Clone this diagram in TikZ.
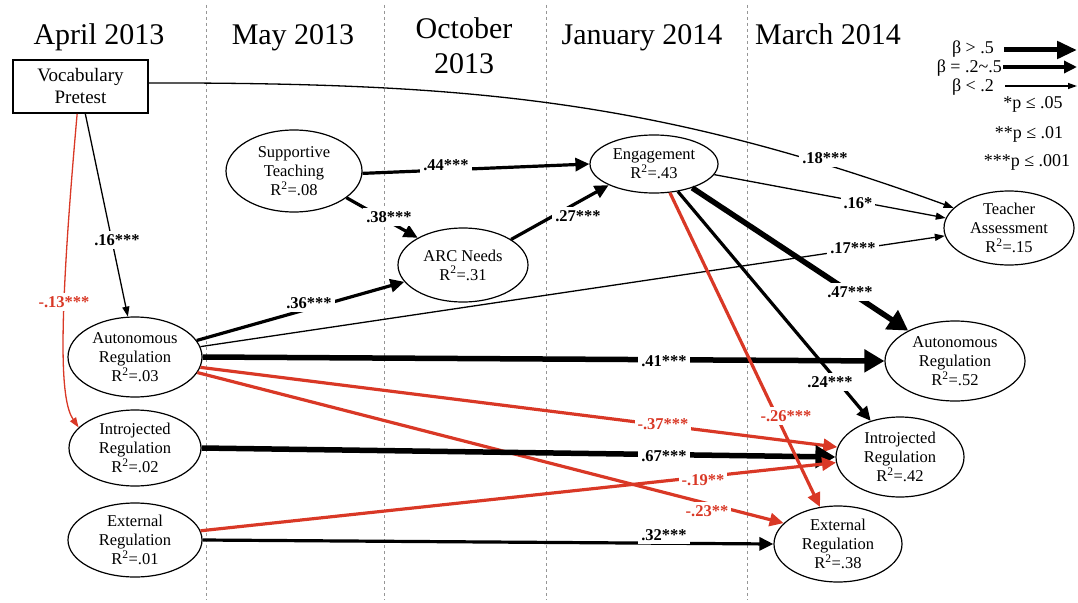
\documentclass[tikz,border=0pt]{standalone}
\usepackage{fontspec}
\setmainfont{Liberation Serif}
\usetikzlibrary{shapes.geometric,arrows.meta}
\definecolor{pathred}{RGB}{217,56,38}
\definecolor{dashgray}{RGB}{150,150,150}
\begin{document}
\begin{tikzpicture}[x=1pt,y=-1pt,
  every node/.style={font=\fontsize{16.5}{19}\selectfont},
  var/.style={ellipse,draw,line width=1.2pt,inner sep=0pt,align=center},
  hdr/.style={font=\fontsize{30}{35}\selectfont,align=center,inner sep=0pt},
  lab/.style={font=\bfseries\fontsize{16.5}{19}\selectfont,fill=white,inner sep=3pt},
  rlab/.style={lab,text=pathred},
  leg/.style={font=\fontsize{18}{20}\selectfont,inner sep=0pt},
  thinA/.style={line width=1.3pt,-{Triangle[length=10pt,width=7pt]}},
  medA/.style={line width=3.2pt,-{Triangle[length=14pt,width=13pt]}},
  thickA/.style={line width=5.5pt,-{Triangle[length=20pt,width=22pt]}},
  redA/.style={medA,draw=pathred},
  divider/.style={draw=dashgray,line width=1pt,dash pattern=on 3pt off 3pt}
]
\useasboundingbox (0,0) rectangle (1078,602);

% column dividers
\draw[divider] (206,5) -- (206,600);
\draw[divider] (384,5) -- (384,600);
\draw[divider] (546,5) -- (546,600);
\draw[divider] (747,5) -- (747,600);

% headers
\node[hdr,anchor=base] (h1) at (99,45) {April 2013};
\node[hdr,anchor=base] (h2) at (293,45) {May 2013};
\node[hdr,anchor=north] (h3) at (464,17.5) {October\\2013};
\node[hdr,anchor=base] (h4) at (642,45) {January 2014};
\node[hdr,anchor=base] (h5) at (828,45) {March 2014};

% variables
\node[draw,line width=1.8pt,minimum width=135pt,minimum height=53pt,inner sep=0pt,align=center,font=\fontsize{19}{22}\selectfont] (voc) at (80.5,86.5) {Vocabulary\\Pretest};
\node[var,minimum width=136pt,minimum height=82pt] (st) at (294,171) {Supportive\\Teaching\\R\textsuperscript{2}=.08};
\node[var,minimum width=130pt,minimum height=74pt] (arc) at (463,265) {ARC Needs\\R\textsuperscript{2}=.31};
\node[var,minimum width=128pt,minimum height=58pt] (eng) at (654,164) {Engagement\\R\textsuperscript{2}=.43};
\node[var,minimum width=130pt,minimum height=74pt] (ta) at (1009,228) {Teacher\\Assessment\\R\textsuperscript{2}=.15};
\node[var,minimum width=134pt,minimum height=80pt] (auL) at (135,357) {Autonomous\\Regulation\\R\textsuperscript{2}=.03};
\node[var,minimum width=132pt,minimum height=76pt] (inL) at (135,448) {Introjected\\Regulation\\R\textsuperscript{2}=.02};
\node[var,minimum width=134pt,minimum height=74pt] (exL) at (135,540) {External\\Regulation\\R\textsuperscript{2}=.01};
\node[var,minimum width=140pt,minimum height=80pt] (auR) at (955,361) {Autonomous\\Regulation\\R\textsuperscript{2}=.52};
\node[var,minimum width=128pt,minimum height=80pt] (inR) at (900,457) {Introjected\\Regulation\\R\textsuperscript{2}=.42};
\node[var,minimum width=128pt,minimum height=76pt] (exR) at (838,544) {External\\Regulation\\R\textsuperscript{2}=.38};

% paths
\draw[thinA] (voc.3) to[out=0,in=160] (ta);
\draw[thinA] (voc.-80) -- (auL.100);
\draw[thinA,draw=pathred] (voc.-97) .. controls (58,330) and (60,400) .. (inL.160);
\draw[medA] (st.-2) -- (eng.180);
\draw[medA] (st.-27) -- (arc.149);
\draw[medA] (arc.28) -- (eng.205);
\draw[medA] (auL.15) -- (arc.196);
\draw[thinA] (auL.9) -- (ta.187);
\draw[thickA] (auL.0) -- (auR.180);
\draw[redA] (auL.-9) -- (inR.171);
\draw[redA] (auL.-14) -- (exR.159);
\draw[thickA] (inL.0) -- (inR.180);
\draw[redA] (exL.8) -- (inR.185);
\draw[medA] (exL.0) -- (exR.180);
\draw[thinA] (eng.-10) -- (ta.171);
\draw[thickA] (eng.-32) -- (auR.147);
\draw[medA] (eng.-49) -- (inR.129);
\draw[redA] (eng.-61) -- (exR.116);

% path labels
\node[lab] (l18) at (825,158) {.18***};
\node[lab] (l16a) at (117,240) {.16***};
\node[rlab] (l13) at (64,302) {-.13***};
\node[lab] (l44) at (446,165) {.44***};
\node[lab] (l38) at (389,217) {.38***};
\node[lab] (l27) at (578,216) {.27***};
\node[lab] (l36) at (309,303) {.36***};
\node[lab] (l17) at (853,248) {.17***};
\node[lab] (l41) at (664,361) {.41***};
\node[rlab] (l37) at (663,424) {-.37***};
\node[rlab] (l23) at (707,511) {-.23**};
\node[lab] (l67) at (664,456) {.67***};
\node[rlab] (l19) at (703,480) {-.19**};
\node[lab] (l32) at (664,535) {.32***};
\node[lab] (l16b) at (858,203) {.16*};
\node[lab] (l47) at (850,292) {.47***};
\node[lab] (l24) at (830,382) {.24***};
\node[rlab] (l26) at (786,416) {-.26***};

% legend
\coordinate (g1s) at (1004,50); \coordinate (g1e) at (1077,50);
\coordinate (g2s) at (1003,67); \coordinate (g2e) at (1077,67);
\coordinate (g3s) at (1005,86); \coordinate (g3e) at (1077,86);
\draw[line width=5pt,-{Triangle[length=20pt,width=17pt]}] (g1s) -- (g1e);
\draw[line width=3.5pt,-{Triangle[length=13pt,width=12pt]}] (g2s) -- (g2e);
\draw[line width=1.3pt,-{Triangle[length=9pt,width=6pt]}] (g3s) -- (g3e);
\node[leg,anchor=base east] (t1) at (994,54) {β > .5};
\node[leg,anchor=base east] (t2) at (1002,72) {β = .2\textasciitilde.5};
\node[leg,anchor=base east] (t3) at (994,91) {β < .2};
\node[leg,anchor=base] (p1) at (1033,108) {*p ≤ .05};
\node[leg,anchor=base] (p2) at (1029,138) {**p ≤ .01};
\node[leg,anchor=base] (p3) at (1027,166) {***p ≤ .001};
\end{tikzpicture}
\end{document}
